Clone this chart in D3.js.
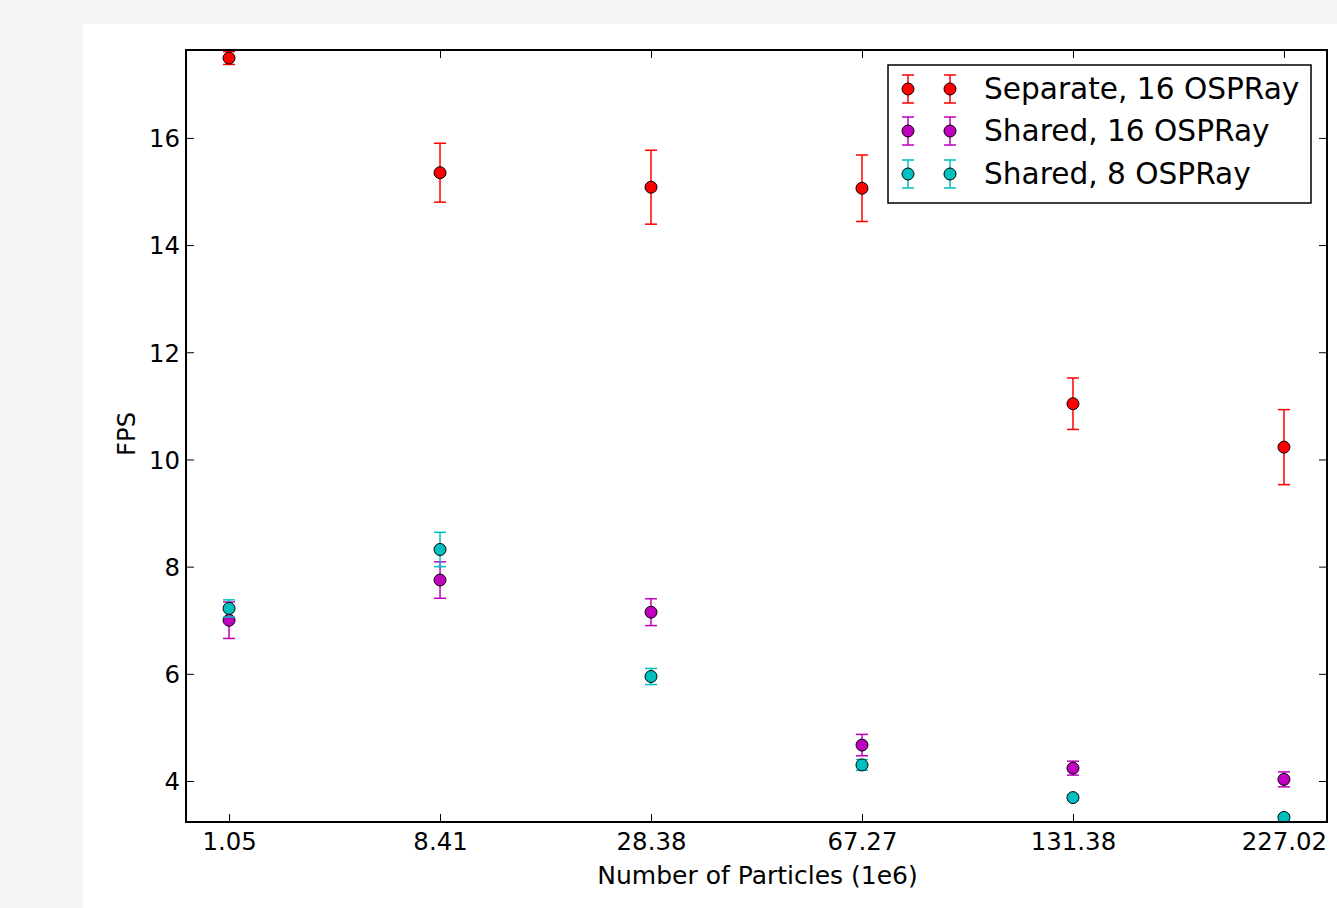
<!DOCTYPE html>
<html>
<head>
<meta charset="utf-8">
<script src="https://cdn.jsdelivr.net/npm/d3@7"></script>
<style>
html,body{margin:0;padding:0;background:#f4f4f6;}
svg{display:block;}
text{font-family:"DejaVu Sans",sans-serif;fill:#000;}
</style>
</head>
<body>
<svg id="chart" width="1337" height="908"></svg>
<script>
const categories = ["1.05", "8.41", "28.38", "67.27", "131.38", "227.02"];
const seriesNames = ["Separate, 16 OSPRay", "Shared, 16 OSPRay", "Shared, 8 OSPRay"];
const seriesColors = ["#ff0000", "#bf00bf", "#00bfbf"];
const separate16 = [17.49, 15.35, 15.08, 15.06, 11.04, 10.23];
const separate16Err = [0.12, 0.55, 0.69, 0.62, 0.48, 0.70];
const shared16 = [7.00, 7.75, 7.15, 4.67, 4.24, 4.03];
const shared16Err = [0.34, 0.34, 0.25, 0.20, 0.13, 0.14];
const shared8 = [7.22, 8.32, 5.95, 4.30, 3.69, 3.32];
const shared8Err = [0.16, 0.32, 0.15, 0.10, 0.05, 0.05];
const yTicks = [4, 6, 8, 10, 12, 14, 16];

const series = [
  {name: seriesNames[0], color: seriesColors[0], values: separate16, errs: separate16Err},
  {name: seriesNames[1], color: seriesColors[1], values: shared16, errs: shared16Err},
  {name: seriesNames[2], color: seriesColors[2], values: shared8, errs: shared8Err}
];

const svg = d3.select("#chart");
svg.append("rect").attr("x", 0).attr("y", 0).attr("width", 1337).attr("height", 908).attr("fill", "#f4f4f6");
svg.append("rect").attr("x", 83).attr("y", 24).attr("width", 1254).attr("height", 884).attr("fill", "#ffffff");

const L = 186, R = 1327, T = 50, B = 822;
const x = d3.scaleLinear().domain([-0.204, 5.204]).range([L, R]);
const y = d3.scaleLinear().domain([3.235, 17.64]).range([B, T]);

const idx = categories.map((c, i) => i);

const tickLen = 8;
const bottomAxis = d3.axisBottom(x).tickValues(idx).tickFormat(i => categories[i]).tickSizeInner(-tickLen).tickSizeOuter(0).tickPadding(14);
const gB = svg.append("g").attr("transform", `translate(0,${B})`).call(bottomAxis);
const topAxis = d3.axisTop(x).tickValues(idx).tickFormat("").tickSizeInner(-tickLen).tickSizeOuter(0);
const gT = svg.append("g").attr("transform", `translate(0,${T})`).call(topAxis);
const leftAxis = d3.axisLeft(y).tickValues(yTicks).tickFormat(d3.format("d")).tickSizeInner(-tickLen).tickSizeOuter(0).tickPadding(6);
const gL = svg.append("g").attr("transform", `translate(${L},0)`).call(leftAxis);
const rightAxis = d3.axisRight(y).tickValues(yTicks).tickFormat("").tickSizeInner(-tickLen).tickSizeOuter(0);
const gR = svg.append("g").attr("transform", `translate(${R},0)`).call(rightAxis);
[gB, gT, gL, gR].forEach(g => {
  g.select(".domain").remove();
  g.selectAll(".tick line").attr("stroke", "#000").attr("stroke-width", 1);
  g.selectAll(".tick text").attr("font-size", 24.4).attr("font-family", "DejaVu Sans, sans-serif").attr("fill", "#000");
});
gB.selectAll(".tick text").attr("dy", null).attr("y", 28);
gL.selectAll(".tick text").attr("dy", "0.36em");

svg.append("clipPath").attr("id", "clip").append("rect").attr("x", L).attr("y", T).attr("width", R - L).attr("height", B - T);
const plot = svg.append("g").attr("clip-path", "url(#clip)");

const capHalf = 6, r = 6;
series.forEach(s => {
  const g = plot.append("g");
  s.values.forEach((v, i) => {
    const e = s.errs[i];
    const cx = x(i);
    g.append("line").attr("x1", cx).attr("x2", cx).attr("y1", y(v - e)).attr("y2", y(v + e))
      .attr("stroke", s.color).attr("stroke-width", 1.5);
    [v - e, v + e].forEach(cv => {
      g.append("line").attr("x1", cx - capHalf).attr("x2", cx + capHalf).attr("y1", y(cv)).attr("y2", y(cv))
        .attr("stroke", s.color).attr("stroke-width", 1.5);
    });
  });
  g.selectAll("circle").data(s.values).enter().append("circle")
    .attr("cx", (d, i) => x(i)).attr("cy", d => y(d)).attr("r", r)
    .attr("fill", s.color).attr("stroke", "#000").attr("stroke-width", 1);
});

svg.append("rect").attr("x", L).attr("y", T).attr("width", R - L).attr("height", B - T)
  .attr("fill", "none").attr("stroke", "#000").attr("stroke-width", 2);

svg.append("text").attr("x", (L + R) / 2 + 1).attr("y", 884).attr("text-anchor", "middle")
  .attr("font-size", 25).text("Number of Particles (1e6)");
svg.append("text").attr("transform", "translate(135,434) rotate(-90)").attr("text-anchor", "middle")
  .attr("font-size", 24.4).text("FPS");

const lg = svg.append("g");
lg.append("rect").attr("x", 888).attr("y", 65).attr("width", 423).attr("height", 138)
  .attr("fill", "#fff").attr("stroke", "#000").attr("stroke-width", 1.5);
const rowY = [89, 131, 174];
series.forEach((s, k) => {
  const cy = rowY[k];
  [908, 950].forEach(cx => {
    lg.append("line").attr("x1", cx).attr("x2", cx).attr("y1", cy - 14).attr("y2", cy + 14).attr("stroke", s.color).attr("stroke-width", 1.5);
    [cy - 14, cy + 14].forEach(yy => lg.append("line").attr("x1", cx - 6).attr("x2", cx + 6).attr("y1", yy).attr("y2", yy).attr("stroke", s.color).attr("stroke-width", 1.5));
    lg.append("circle").attr("cx", cx).attr("cy", cy).attr("r", r).attr("fill", s.color).attr("stroke", "#000").attr("stroke-width", 1);
  });
  lg.append("text").attr("x", 984).attr("y", cy + 10).attr("font-size", 29.6).text(s.name);
});
</script>
</body>
</html>
